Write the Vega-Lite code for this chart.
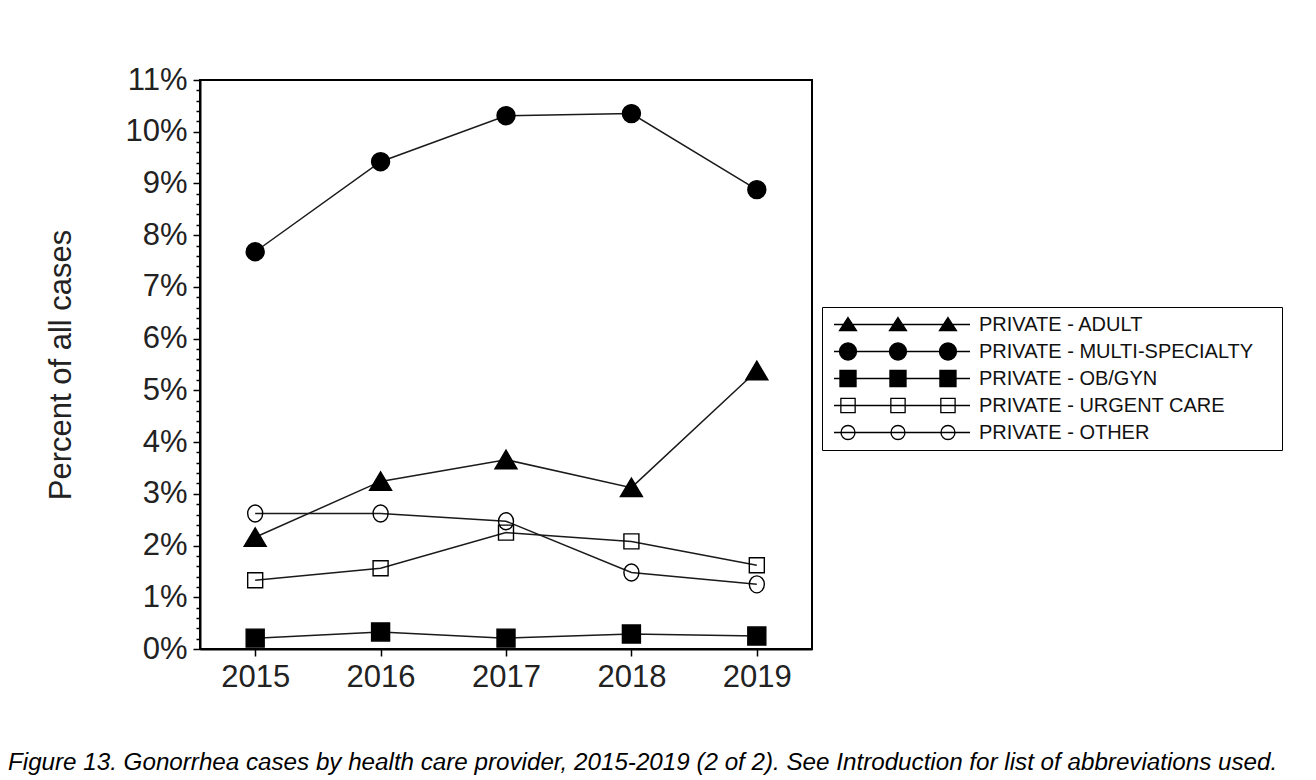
{
  "$schema": "https://vega.github.io/schema/vega-lite/v6.json",
  "width": 612,
  "height": 569,
  "autosize": {"type": "none"},
  "padding": {"left": 200, "top": 80, "right": 504, "bottom": 131},
  "background": "white",
  "title": {
    "text": "Figure 13.  Gonorrhea cases by health care provider, 2015-2019 (2 of 2). See Introduction for list of abbreviations used.",
    "orient": "bottom",
    "anchor": "start",
    "frame": "group",
    "dx": -192,
    "offset": 59,
    "font": "Liberation Sans",
    "fontStyle": "italic",
    "fontWeight": "normal",
    "fontSize": 24.2,
    "color": "black"
  },
  "data": {
    "values": [
      {"year": "2015", "series": "PRIVATE - ADULT", "value": 2.16},
      {"year": "2016", "series": "PRIVATE - ADULT", "value": 3.24},
      {"year": "2017", "series": "PRIVATE - ADULT", "value": 3.66},
      {"year": "2018", "series": "PRIVATE - ADULT", "value": 3.12},
      {"year": "2019", "series": "PRIVATE - ADULT", "value": 5.38},
      {"year": "2015", "series": "PRIVATE - MULTI-SPECIALTY", "value": 7.68},
      {"year": "2016", "series": "PRIVATE - MULTI-SPECIALTY", "value": 9.42},
      {"year": "2017", "series": "PRIVATE - MULTI-SPECIALTY", "value": 10.31},
      {"year": "2018", "series": "PRIVATE - MULTI-SPECIALTY", "value": 10.35},
      {"year": "2019", "series": "PRIVATE - MULTI-SPECIALTY", "value": 8.88},
      {"year": "2015", "series": "PRIVATE - OB/GYN", "value": 0.21},
      {"year": "2016", "series": "PRIVATE - OB/GYN", "value": 0.33},
      {"year": "2017", "series": "PRIVATE - OB/GYN", "value": 0.21},
      {"year": "2018", "series": "PRIVATE - OB/GYN", "value": 0.29},
      {"year": "2019", "series": "PRIVATE - OB/GYN", "value": 0.25},
      {"year": "2015", "series": "PRIVATE - URGENT CARE", "value": 1.33},
      {"year": "2016", "series": "PRIVATE - URGENT CARE", "value": 1.56},
      {"year": "2017", "series": "PRIVATE - URGENT CARE", "value": 2.25},
      {"year": "2018", "series": "PRIVATE - URGENT CARE", "value": 2.08},
      {"year": "2019", "series": "PRIVATE - URGENT CARE", "value": 1.62},
      {"year": "2015", "series": "PRIVATE - OTHER", "value": 2.62},
      {"year": "2016", "series": "PRIVATE - OTHER", "value": 2.62},
      {"year": "2017", "series": "PRIVATE - OTHER", "value": 2.47},
      {"year": "2018", "series": "PRIVATE - OTHER", "value": 1.48},
      {"year": "2019", "series": "PRIVATE - OTHER", "value": 1.25}
    ]
  },
  "encoding": {
    "x": {
      "field": "year",
      "type": "ordinal",
      "scale": {"type": "point", "padding": 0.44},
      "axis": {
        "title": null,
        "labelAngle": 0,
        "labelFontSize": 31,
        "tickSize": 7,
        "labelPadding": 6,
        "domainWidth": 2,
        "tickWidth": 1.5
      }
    },
    "y": {
      "field": "value",
      "type": "quantitative",
      "scale": {"domain": [0, 11], "nice": false},
      "axis": {
        "title": "Percent of all cases",
        "values": [0, 0.2, 0.4, 0.6, 0.8, 1, 1.2, 1.4, 1.6, 1.8, 2, 2.2, 2.4, 2.6, 2.8, 3, 3.2, 3.4, 3.6, 3.8, 4, 4.2, 4.4, 4.6, 4.8, 5, 5.2, 5.4, 5.6, 5.8, 6, 6.2, 6.4, 6.6, 6.8, 7, 7.2, 7.4, 7.6, 7.8, 8, 8.2, 8.4, 8.6, 8.8, 9, 9.2, 9.4, 9.6, 9.8, 10, 10.2, 10.4, 10.6, 10.8, 11],
        "labelExpr": "datum.value % 1 == 0 ? datum.value + '%' : ''",
        "tickSize": {"condition": {"test": "datum.value % 1 == 0", "value": 7}, "value": 4},
        "labelOverlap": false,
        "labelPadding": 6,
        "labelFontSize": 31,
        "titleFontSize": 31,
        "titleFontWeight": "normal",
        "titlePadding": 47,
        "domainWidth": 2,
        "tickWidth": 1.5,
        "grid": false
      }
    }
  },
  "layer": [
    {
      "mark": {"type": "line", "color": "#1a1a1a", "strokeWidth": 1.5},
      "encoding": {"detail": {"field": "series", "type": "nominal"}}
    },
    {
      "mark": {"type": "point", "filled": true, "opacity": 1, "stroke": "black", "strokeWidth": 1.4, "size": 400},
      "encoding": {
        "shape": {
          "field": "series",
          "type": "nominal",
          "scale": {
            "domain": ["PRIVATE - ADULT", "PRIVATE - MULTI-SPECIALTY", "PRIVATE - OB/GYN", "PRIVATE - URGENT CARE", "PRIVATE - OTHER"],
            "range": [
              "M0,-0.95 L1.1,0.9 L-1.1,0.9 Z",
              "M0.9,0 C0.9,0.497 0.497,0.9 0,0.9 C-0.497,0.9 -0.9,0.497 -0.9,0 C-0.9,-0.497 -0.497,-0.9 0,-0.9 C0.497,-0.9 0.9,-0.497 0.9,0 Z",
              "M-0.9,-0.9 L0.9,-0.9 L0.9,0.9 L-0.9,0.9 Z",
              "M-0.75,-0.75 L0.75,-0.75 L0.75,0.75 L-0.75,0.75 Z",
              "M0.75,0 C0.75,0.469 0.414,0.85 0,0.85 C-0.414,0.85 -0.75,0.469 -0.75,0 C-0.75,-0.469 -0.414,-0.85 0,-0.85 C0.414,-0.85 0.75,-0.469 0.75,0 Z"
            ]
          },
          "legend": null
        },
        "fill": {
          "field": "series",
          "type": "nominal",
          "scale": {
            "domain": ["PRIVATE - ADULT", "PRIVATE - MULTI-SPECIALTY", "PRIVATE - OB/GYN", "PRIVATE - URGENT CARE", "PRIVATE - OTHER"],
            "range": ["black", "black", "black", "transparent", "transparent"]
          },
          "legend": null
        }
      }
    },
    {
      "mark": {"type": "point", "filled": true, "opacity": 0, "stroke": "black", "strokeWidth": 1.3},
      "encoding": {
        "fill": {
          "field": "series",
          "type": "nominal",
          "scale": {
            "domain": ["PRIVATE - ADULT", "PRIVATE - MULTI-SPECIALTY", "PRIVATE - OB/GYN", "PRIVATE - URGENT CARE", "PRIVATE - OTHER"],
            "range": ["black", "black", "black", "white", "white"]
          }
        },
        "shape": {
          "field": "series",
          "type": "nominal",
          "scale": {
            "domain": ["PRIVATE - ADULT", "PRIVATE - MULTI-SPECIALTY", "PRIVATE - OB/GYN", "PRIVATE - URGENT CARE", "PRIVATE - OTHER"],
            "range": [
              "M-1,0 L1,0 M-0.794,-0.103 L-0.669,0.088 L-0.919,0.088 Z M-0.059,-0.103 L0.066,0.088 L-0.184,0.088 Z M0.676,-0.103 L0.801,0.088 L0.551,0.088 Z",
              "M-1,0 L1,0 M-0.669,0 C-0.669,0.069 -0.725,0.125 -0.794,0.125 C-0.863,0.125 -0.919,0.069 -0.919,0 C-0.919,-0.069 -0.863,-0.125 -0.794,-0.125 C-0.725,-0.125 -0.669,-0.069 -0.669,0 Z M0.066,0 C0.066,0.069 0.010,0.125 -0.059,0.125 C-0.128,0.125 -0.184,0.069 -0.184,0 C-0.184,-0.069 -0.128,-0.125 -0.059,-0.125 C0.010,-0.125 0.066,-0.069 0.066,0 Z M0.801,0 C0.801,0.069 0.745,0.125 0.676,0.125 C0.607,0.125 0.551,0.069 0.551,0 C0.551,-0.069 0.607,-0.125 0.676,-0.125 C0.745,-0.125 0.801,-0.069 0.801,0 Z",
              "M-1,0 L1,0 M-0.912,-0.118 L-0.676,-0.118 L-0.676,0.118 L-0.912,0.118 Z M-0.177,-0.118 L0.059,-0.118 L0.059,0.118 L-0.177,0.118 Z M0.558,-0.118 L0.794,-0.118 L0.794,0.118 L0.558,0.118 Z",
              "M-1,0 L1,0 M-0.899,-0.105 L-0.689,-0.105 L-0.689,0.105 L-0.899,0.105 Z M-0.164,-0.105 L0.046,-0.105 L0.046,0.105 L-0.164,0.105 Z M0.571,-0.105 L0.781,-0.105 L0.781,0.105 L0.571,0.105 Z",
              "M-1,0 L1,0 M-0.691,0 C-0.691,0.057 -0.737,0.103 -0.794,0.103 C-0.851,0.103 -0.897,0.057 -0.897,0 C-0.897,-0.057 -0.851,-0.103 -0.794,-0.103 C-0.737,-0.103 -0.691,-0.057 -0.691,0 Z M0.044,0 C0.044,0.057 -0.002,0.103 -0.059,0.103 C-0.116,0.103 -0.162,0.057 -0.162,0 C-0.162,-0.057 -0.116,-0.103 -0.059,-0.103 C-0.002,-0.103 0.044,-0.057 0.044,0 Z M0.779,0 C0.779,0.057 0.733,0.103 0.676,0.103 C0.619,0.103 0.573,0.057 0.573,0 C0.573,-0.057 0.619,-0.103 0.676,-0.103 C0.733,-0.103 0.779,-0.057 0.779,0 Z"
            ]
          },
          "legend": {
            "orient": "none",
            "legendX": 622,
            "legendY": 227,
            "title": "\u00a0",
            "titleOrient": "right",
            "titlePadding": 25,
            "titleFontSize": 20,
            "strokeColor": "black",
            "fillColor": "white",
            "padding": 4,
            "clipHeight": 27,
            "rowPadding": 0,
            "symbolSize": 18496,
            "symbolOffset": 7,
            "labelOffset": 8,
            "labelFont": "Liberation Sans",
            "labelFontSize": 20,
            "labelColor": "#111",
            "labelLimit": 0,
            "symbolFillColor": "white",
            "symbolStrokeWidth": 1.3,
            "symbolStrokeColor": "black"
          }
        }
      }
    }
  ],
  "resolve": {
    "scale": {"shape": "independent", "fill": "independent"},
    "legend": {"shape": "independent", "fill": "independent"}
  },
  "config": {
    "font": "Liberation Sans",
    "view": {"stroke": "black", "strokeWidth": 2},
    "axis": {
      "labelColor": "#222",
      "titleColor": "#222",
      "domainColor": "black",
      "tickColor": "black",
      "labelFont": "Liberation Sans",
      "titleFont": "Liberation Sans"
    }
  }
}
